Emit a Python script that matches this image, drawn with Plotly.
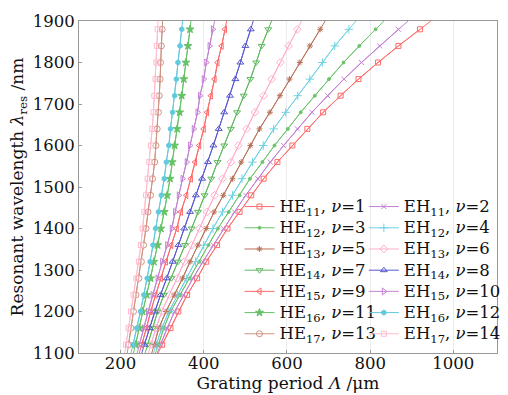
import plotly.graph_objects as go

# Resonant wavelengths (nm) at which markers are drawn
wavelength_nm = [1120, 1160, 1200, 1240, 1280, 1320, 1360, 1400, 1440, 1480,
                 1520, 1560, 1600, 1640, 1680, 1720, 1760, 1800, 1840, 1880]
# Curves continue to the frame edges
wavelength_ends_nm = [1100, 1900]

# Grating period (um) for each cladding mode
HE11_nu1 = [300, 320, 339, 360, 384, 406, 432, 457, 486, 514, 544, 577, 613, 649, 687, 729, 772, 819, 868, 920]
EH11_nu2 = [296, 312, 330, 351, 374, 398, 423, 447, 474, 501, 530, 560, 592, 625, 660, 698, 737, 779, 823, 868]
HE12_nu3 = [291, 304, 320, 343, 366, 389, 411, 434, 460, 486, 511, 541, 570, 602, 633, 667, 701, 736, 774, 813]
EH12_nu4 = [286, 299, 316, 337, 359, 380, 400, 422, 445, 469, 492, 517, 543, 568, 597, 626, 655, 685, 715, 749]
HE13_nu5 = [281, 292, 309, 329, 349, 367, 386, 406, 425, 447, 469, 490, 512, 534, 559, 583, 606, 631, 655, 680]
EH13_nu6 = [273, 285, 299, 317, 336, 353, 371, 390, 408, 426, 445, 465, 483, 503, 523, 544, 563, 584, 604, 625]
HE14_nu7 = [265, 277, 289, 304, 322, 338, 355, 371, 386, 402, 418, 433, 449, 465, 480, 496, 512, 526, 539, 555]
EH14_nu8 = [257, 270, 282, 296, 311, 325, 339, 353, 367, 381, 396, 410, 423, 436, 449, 463, 476, 488, 500, 513]
HE15_nu9 = [251, 262, 272, 284, 297, 309, 322, 335, 345, 358, 369, 379, 389, 400, 408, 417, 426, 433, 443, 451]
EH15_nu10 = [245, 256, 266, 277, 289, 300, 312, 323, 331, 340, 349, 359, 367, 376, 385, 391, 400, 406, 414, 422]
HE16_nu11 = [236, 245, 253, 263, 272, 280, 289, 297, 305, 312, 319, 324, 330, 336, 342, 347, 352, 357, 362, 367]
EH16_nu12 = [230, 239, 248, 256, 264, 271, 278, 284, 291, 298, 305, 310, 316, 320, 325, 330, 334, 338, 343, 347]
HE17_nu13 = [219, 225, 231, 237, 244, 250, 255, 261, 266, 272, 277, 282, 285, 288, 291, 293, 295, 296, 298, 300]
EH17_nu14 = [213, 219, 225, 231, 238, 244, 249, 253, 257, 261, 265, 269, 273, 276, 279, 281, 284, 286, 287, 289]

# Where each curve meets the bottom (1100 nm) and top (1900 nm) edges
period_at_1100 = [290, 288, 284, 279, 275, 267, 259, 251, 245, 240, 231, 225, 216, 210]
period_at_1900 = [946, 891, 833, 766, 692, 635, 563, 519, 455, 426, 369, 349, 301, 290]

series = [HE11_nu1, EH11_nu2, HE12_nu3, EH12_nu4, HE13_nu5, EH13_nu6, HE14_nu7,
          EH14_nu8, HE15_nu9, EH15_nu10, HE16_nu11, EH16_nu12, HE17_nu13, EH17_nu14]
mode_family = ["HE", "EH"] * 7
mode_index = ["11", "11", "12", "12", "13", "13", "14", "14", "15", "15", "16", "16", "17", "17"]
nu_values = list(range(1, 15))

colors = ["#ff6b6b", "#c47fd4", "#6cc46c", "#6fd2e2", "#b9735a", "#ffaecb", "#5fb85f",
          "#5858cf", "#ff6868", "#c482d4", "#66c266", "#62cadb", "#d09282", "#ffbccd"]
symbols = ["square-open", "x-thin-open", "circle", "cross-thin-open", "asterisk-open",
           "diamond-open", "triangle-down-open", "triangle-up-open", "triangle-left-open",
           "triangle-right-open", "star", "hexagon", "circle-open", "square-open"]
sizes = [5, 5, 3, 6, 5, 6, 6, 6, 6, 6, 6, 5, 6, 5]

SERIF = "DejaVu Serif"

fig = go.Figure()
for i, ys in enumerate(series):
    c = colors[i]
    # full line reaching the frame
    fig.add_trace(go.Scatter(
        x=[period_at_1100[i]] + ys + [period_at_1900[i]],
        y=[wavelength_ends_nm[0]] + wavelength_nm + [wavelength_ends_nm[1]],
        mode="lines", line=dict(color=c, width=1), showlegend=False, hoverinfo="skip"))
for i, ys in enumerate(series):
    c = colors[i]
    label = ('<span style="font-size:16.5px">%s<sub>%s</sub>, <i>ν</i>=%d</span>'
             % (mode_family[i], mode_index[i], nu_values[i]))
    fig.add_trace(go.Scatter(
        x=ys, y=wavelength_nm, mode="lines+markers", name=label,
        line=dict(color=c, width=1),
        marker=dict(symbol=symbols[i], size=sizes[i], color=c,
                    line=dict(color=c, width=1)),
        legend="legend" if mode_family[i] == "HE" else "legend2"))

legend_common = dict(font=dict(family=SERIF, size=14, color="#111"),
                     bgcolor="rgba(0,0,0,0)", borderwidth=0,
                     yanchor="top", xanchor="left", y=0.488, tracegroupgap=0)

fig.update_layout(
    width=508, height=395,
    margin=dict(l=79, r=2, t=21, b=42),
    paper_bgcolor="white", plot_bgcolor="white",
    font=dict(family=SERIF, size=17, color="#111"),
    legend=dict(x=0.384, **legend_common),
    legend2=dict(x=0.6815, **legend_common),
    xaxis=dict(range=[100, 1105], tick0=0, dtick=200, ticks="inside", ticklen=3,
               tickcolor="#999", showline=True, linecolor="#999", linewidth=1, mirror=True,
               showgrid=True, gridcolor="#ececec", gridwidth=1, zeroline=False,
               ticklabelstandoff=-5,
               tickfont=dict(family=SERIF, size=16.5, color="#111"),
               title=dict(text="Grating period <i>Λ</i> /μm", standoff=0,
                          font=dict(family=SERIF, size=17, color="#111"))),
    yaxis=dict(range=[1100, 1900], dtick=100, ticks="inside", ticklen=3,
               tickcolor="#999", showline=True, linecolor="#999", linewidth=1, mirror=True,
               showgrid=False, zeroline=False,
               tickfont=dict(family=SERIF, size=16.5, color="#111"),
               title=dict(text="Resonant wavelength <i>λ</i><sub>res</sub> /nm", standoff=4,
                          font=dict(family=SERIF, size=17, color="#111"))),
)

fig.write_html("out.html")
